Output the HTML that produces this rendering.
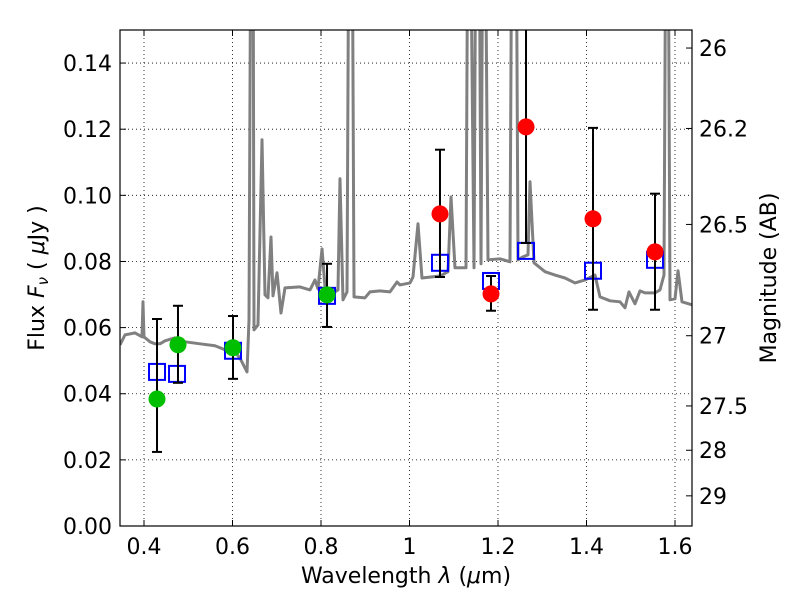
<!DOCTYPE html>
<html><head><meta charset="utf-8"><style>
html,body{margin:0;padding:0;background:#fff}
svg{display:block;font-family:"DejaVu Sans","Liberation Sans",sans-serif}
</style></head><body>
<svg id="chart" width="800" height="600" viewBox="0 0 800 600">
<defs><clipPath id="clip"><rect x="120" y="30" width="572" height="496"/></clipPath></defs>
<rect width="800" height="600" fill="#fff"/>
<g id="grid"></g>
<g id="spec" clip-path="url(#clip)"></g>
<g id="marks" clip-path="url(#clip)"></g>
<g id="axes"></g>
<text x="406" y="583" font-size="22" text-anchor="middle">Wavelength  <tspan font-style="italic">λ</tspan> (<tspan font-style="italic">μ</tspan>m)</text>
<text transform="translate(44,278) rotate(-90)" font-size="22" text-anchor="middle">Flux  <tspan font-style="italic">F<tspan font-size="15" dy="4">ν</tspan></tspan><tspan dy="-4">  ( </tspan><tspan font-style="italic">μ</tspan>Jy )</text>
<text transform="translate(776,278) rotate(-90)" font-size="22" text-anchor="middle">Magnitude (AB)</text>
</svg>
<script>
const specLam=[0.3458,0.3571,0.3797,0.3955,0.3977,0.4000,0.4136,0.4249,0.4362,0.4475,0.4701,0.4927,0.5266,0.5604,0.5831,0.6011,0.6169,0.6328,0.6373,0.6418,0.6463,0.6486,0.6576,0.6667,0.6734,0.6802,0.6870,0.6915,0.7006,0.7096,0.7186,0.7525,0.7751,0.7864,0.7932,0.8023,0.8090,0.8316,0.8384,0.8429,0.8497,0.8588,0.8633,0.8701,0.8746,0.8994,0.9107,0.9333,0.9559,0.9718,0.9785,1.0011,1.0079,1.0192,1.0282,1.0689,1.0870,1.0938,1.1028,1.1277,1.1322,1.1367,1.1458,1.1503,1.1571,1.1616,1.1661,1.1706,1.1774,1.2045,1.2271,1.2316,1.2407,1.2452,1.2565,1.2678,1.2723,1.2814,1.3062,1.3288,1.3514,1.3740,1.3966,1.4192,1.4305,1.4531,1.4757,1.4870,1.4960,1.5096,1.5209,1.5322,1.5548,1.5661,1.5751,1.5797,1.5842,1.5887,1.6000,1.6068,1.6158,1.6384];
const specFlux=[0.0548,0.0578,0.0584,0.0572,0.0678,0.0572,0.0557,0.0551,0.0551,0.0560,0.0569,0.0557,0.0551,0.0545,0.0533,0.0533,0.0508,0.0466,0.0623,0.2,0.2,0.0593,0.0608,0.1168,0.0699,0.0690,0.0874,0.0696,0.0766,0.0644,0.0720,0.0723,0.0714,0.0744,0.0717,0.0838,0.0723,0.0708,0.0714,0.1050,0.0684,0.0708,0.2,0.2,0.0693,0.0690,0.0708,0.0711,0.0708,0.0738,0.0729,0.0735,0.0753,0.0914,0.0750,0.0756,0.0769,0.0995,0.0781,0.0781,0.2,0.2,0.0781,0.2,0.2,0.0793,0.2,0.2,0.0805,0.0808,0.0799,0.2,0.2,0.0805,0.0814,0.0820,0.1041,0.0796,0.0769,0.0759,0.0750,0.0735,0.0744,0.0759,0.0693,0.0681,0.0678,0.0660,0.0708,0.0672,0.0711,0.0705,0.0705,0.0714,0.0759,0.2,0.2,0.0684,0.0687,0.0772,0.0678,0.0669];
const greenLam=[0.4294,0.4768,0.6011,0.8136];
const greenFlux=[0.0384,0.0548,0.0539,0.0699];
const greenErrHi=[0.0626,0.0666,0.0635,0.0793];
const greenErrLo=[0.0224,0.0433,0.0445,0.0602];
const redLam=[1.0689,1.1842,1.2633,1.4147,1.5548];
const redFlux=[0.0944,0.0702,0.1207,0.0929,0.0829];
const redErrHi=[0.1138,0.0756,0.16,0.1204,0.1005];
const redErrLo=[0.0753,0.0651,0.0856,0.0654,0.0654];
const modelLam=[0.4294,0.4746,0.6011,0.8136,1.0689,1.1842,1.2633,1.4147,1.5548];
const modelFlux=[0.0466,0.0460,0.0530,0.0696,0.0796,0.0741,0.0832,0.0772,0.0805];
const xTicks=[0.4,0.6,0.8,1.0,1.2,1.4,1.6];
const xTickLabels=["0.4","0.6","0.8","1","1.2","1.4","1.6"];
const yTicks=[0,0.02,0.04,0.06,0.08,0.10,0.12,0.14];
const yTickLabels=["0.00","0.02","0.04","0.06","0.08","0.10","0.12","0.14"];
const magTicks=[26,26.2,26.5,27,27.5,28,29];
const magTickLabels=["26","26.2","26.5","27","27.5","28","29"];

const L=120,R=692,T=30,B=526;
const X=v=>144+(v-0.4)*442.5;
const Y=v=>B-(v/0.15)*(B-T);
const NS="http://www.w3.org/2000/svg";
function mk(parent,tag,attrs){const e=document.createElementNS(NS,tag);for(const k in attrs)e.setAttribute(k,attrs[k]);parent.appendChild(e);return e;}
const grid=document.getElementById('grid'),spec=document.getElementById('spec'),marks=document.getElementById('marks'),axes=document.getElementById('axes');

xTicks.forEach((t,i)=>{
 const g=mk(grid,'line',{x1:X(t),x2:X(t),y1:T,y2:B,stroke:'#000','stroke-width':0.8,'stroke-dasharray':'1,3'});
 
 
 mk(axes,'line',{x1:X(t),x2:X(t),y1:B,y2:B-6,stroke:'#000'});
 mk(axes,'line',{x1:X(t),x2:X(t),y1:T,y2:T+6,stroke:'#000'});
 const tx=mk(axes,'text',{x:X(t),y:554,'font-size':22,'text-anchor':'middle'});tx.textContent=xTickLabels[i];
 
 
});
yTicks.forEach((t,i)=>{
 const g=mk(grid,'line',{x1:L,x2:R,y1:Y(t),y2:Y(t),stroke:'#000','stroke-width':0.8,'stroke-dasharray':'1,3'});
 
 
 mk(axes,'line',{x1:L,x2:L+6,y1:Y(t),y2:Y(t),stroke:'#000'});
 const tx=mk(axes,'text',{x:112,y:Y(t)+8,'font-size':22,'text-anchor':'end'});tx.textContent=yTickLabels[i];
 
 
});
magTicks.forEach((m,i)=>{
 const f=Math.pow(10,(23.9-m)/2.5);const y=Y(f);
 mk(axes,'line',{x1:R,x2:R-6,y1:y,y2:y,stroke:'#000'});
 const tx=mk(axes,'text',{x:699,y:y+8,'font-size':22,'text-anchor':'start'});tx.textContent=magTickLabels[i];
 
 
});

const sp=mk(spec,'polyline',{points:specLam.map((l,i)=>X(l)+','+Y(specFlux[i])).join(' '),fill:'none',stroke:'#808080','stroke-width':3,'stroke-linejoin':'round'});



function errbar(x,hi,lo){
 mk(marks,'line',{x1:x,x2:x,y1:Y(hi),y2:Y(lo),stroke:'#000','stroke-width':2});
 mk(marks,'line',{x1:x-5,x2:x+5,y1:Y(hi),y2:Y(hi),stroke:'#000','stroke-width':2});
 mk(marks,'line',{x1:x-5,x2:x+5,y1:Y(lo),y2:Y(lo),stroke:'#000','stroke-width':2});
}
modelLam.forEach((l,i)=>{
 const s=mk(marks,'rect',{x:X(l)-8,y:Y(modelFlux[i])-8,width:16,height:16,fill:'none',stroke:'#0000ff','stroke-width':2});
 
 
});
greenLam.forEach((l,i)=>{
 errbar(X(l),greenErrHi[i],greenErrLo[i]);
 const c=mk(marks,'circle',{cx:X(l),cy:Y(greenFlux[i]),r:8.5,fill:'#00bf00'});
 
 
});
redLam.forEach((l,i)=>{
 errbar(X(l),redErrHi[i],redErrLo[i]);
 const c=mk(marks,'circle',{cx:X(l),cy:Y(redFlux[i]),r:8.5,fill:'#ff0000'});
 
 
});
const fr=mk(axes,'rect',{x:L,y:T,width:R-L,height:B-T,fill:'none',stroke:'#000','stroke-width':1.2});


</script>
</body></html>
